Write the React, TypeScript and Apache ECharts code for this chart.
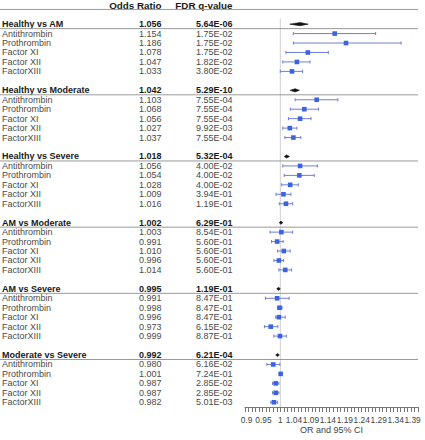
import React, { useEffect, useRef } from "react";
import * as echarts from "echarts";

// ---- data ----
const groupNames = ["Healthy vs AM", "Healthy vs Moderate", "Healthy vs Severe", "AM vs Moderate", "AM vs Severe", "Moderate vs Severe"];
const groupOR = [1.056, 1.042, 1.018, 1.002, 0.995, 0.992];
const groupQ = [5.64e-6, 5.29e-10, 5.32e-4, 6.29e-1, 1.19e-1, 6.21e-4];
const groupLo = [1.027, 1.028, 1.011, 0.999, 0.992, 0.99];
const groupHi = [1.079, 1.054, 1.026, 1.005, 0.998, 0.994];

const factorNames = ["Antithrombin", "Prothrombin", "Factor XI", "Factor XII", "FactorXIII"];
const factorOR = [
  [1.154, 1.186, 1.078, 1.047, 1.033],
  [1.103, 1.068, 1.056, 1.027, 1.037],
  [1.056, 1.054, 1.028, 1.009, 1.016],
  [1.003, 0.991, 1.01, 0.996, 1.014],
  [0.991, 0.998, 0.996, 0.973, 0.999],
  [0.98, 1.001, 0.987, 0.987, 0.982],
];
const factorQ = [
  [1.75e-2, 1.75e-2, 1.75e-2, 1.82e-2, 3.8e-2],
  [7.55e-4, 7.55e-4, 7.55e-4, 9.92e-3, 7.55e-4],
  [4.0e-2, 4.0e-2, 4.0e-2, 3.94e-1, 1.19e-1],
  [8.54e-1, 5.6e-1, 5.6e-1, 5.6e-1, 5.6e-1],
  [8.47e-1, 8.47e-1, 8.47e-1, 6.15e-2, 8.87e-1],
  [6.16e-2, 7.24e-1, 2.85e-2, 2.85e-2, 5.01e-3],
];
const factorLo = [
  [1.037, 1.037, 1.016, 1.007, 1.0],
  [1.042, 1.028, 1.023, 1.007, 1.013],
  [1.007, 1.011, 1.004, 0.988, 0.997],
  [0.971, 0.975, 0.992, 0.982, 0.996],
  [0.958, 0.992, 0.987, 0.955, 0.982],
  [0.962, 0.998, 0.978, 0.978, 0.973],
];
const factorHi = [
  [1.27, 1.342, 1.136, 1.084, 1.063],
  [1.163, 1.108, 1.087, 1.047, 1.058],
  [1.105, 1.096, 1.051, 1.03, 1.035],
  [1.035, 1.008, 1.028, 1.009, 1.032],
  [1.025, 1.005, 1.014, 0.993, 1.017],
  [0.999, 1.004, 0.996, 0.996, 0.992],
];

const columnHeaders = ["Odds Ratio", "FDR q-value"];
const tickLabels = [0.9, 0.95, 1, 1.04, 1.09, 1.14, 1.19, 1.24, 1.29, 1.34, 1.39];
const axisName = "OR and 95% CI";
const xMin = 0.9;
const xMax = 1.39;
// the reference packs its tick labels slightly tighter than its ticks
const labelAxisMin = 0.8956;
const labelAxisMax = 1.4059;

// ---- helpers ----
function fmtQ(v: number): string {
  const [m, e] = v.toExponential(2).split("e");
  const n = parseInt(e, 10);
  const sign = n < 0 ? "-" : "+";
  const abs = Math.abs(n);
  return m + "E" + sign + (abs < 10 ? "0" + abs : String(abs));
}

type Row = { row: number; kind: number; name: string; or?: number; q?: number; lo?: number; hi?: number };

function buildRows(): Row[] {
  const rows: Row[] = [{ row: 0, kind: 0, name: "" }];
  groupNames.forEach((g, gi) => {
    const r = 2 + gi * 7;
    rows.push({ row: r, kind: 1, name: g, or: groupOR[gi], q: groupQ[gi], lo: groupLo[gi], hi: groupHi[gi] });
    factorNames.forEach((f, fi) => {
      rows.push({
        row: r + 1 + fi,
        kind: 2,
        name: f,
        or: factorOR[gi][fi],
        q: factorQ[gi][fi],
        lo: factorLo[gi][fi],
        hi: factorHi[gi][fi],
      });
    });
  });
  return rows;
}

const FONT = "Liberation Sans, Arial, sans-serif";
const NAME_X = 2;
const OR_X = 161.5;
const Q_X = 232.5;

export default function App() {
  const ref = useRef<HTMLDivElement>(null);
  useEffect(() => {
    if (!ref.current) return;
    const chart = echarts.init(ref.current, undefined, { renderer: "svg" });
    const rows = buildRows();
    const data = rows.map((r, i) => [r.or ?? 1, r.row, r.lo ?? 1, r.hi ?? 1, r.kind, i]);

    const renderItem = (params: any, api: any) => {
      const idx = api.value(5);
      const r = rows[idx];
      const y = api.coord([1, r.row])[1];
      const xRight = api.coord([xMax, r.row])[0];
      const children: any[] = [];
      const txt = (text: string, x: number, align: string, bold: boolean, fill: string, size = 9) => ({
        type: "text",
        style: {
          text,
          x,
          y,
          align,
          verticalAlign: "middle",
          fontSize: size,
          fontFamily: FONT,
          fontWeight: bold ? "bold" : "normal",
          fill,
        },
      });
      if (r.kind === 0) {
        children.push(txt(columnHeaders[0], OR_X, "right", true, "#1a1a1a", 9.8));
        children.push(txt(columnHeaders[1], Q_X, "right", true, "#1a1a1a", 9.8));
        children.push({
          type: "line",
          shape: { x1: 0, y1: y + 4.2, x2: xRight, y2: y + 4.2 },
          style: { stroke: "#9a9a9a", lineWidth: 1 },
        });
        return { type: "group", children };
      }
      const bold = r.kind === 1;
      const col = bold ? "#1a1a1a" : "#4a4a4a";
      children.push(txt(r.name, NAME_X, "left", bold, col));
      children.push(txt((r.or as number).toFixed(3), OR_X, "right", bold, col));
      children.push(txt(fmtQ(r.q as number), Q_X, "right", bold, col));
      const xo = api.coord([r.or, r.row])[0];
      const xl = api.coord([r.lo, r.row])[0];
      const xh = api.coord([r.hi, r.row])[0];
      if (bold) {
        children.push({
          type: "line",
          shape: { x1: 0, y1: y + 4.5, x2: xRight, y2: y + 4.5 },
          style: { stroke: "#9a9a9a", lineWidth: 1 },
        });
        const l = Math.min(xl, xo - 1.8);
        const h = Math.max(xh, xo + 1.8);
        children.push({
          type: "polygon",
          shape: { points: [[l, y], [xo, y - 1.6], [h, y], [xo, y + 1.6]] },
          style: { fill: "#111", stroke: "#111", lineWidth: 0.6 },
        });
      } else {
        children.push({
          type: "line",
          shape: { x1: xl, y1: y, x2: xh, y2: y },
          style: { stroke: "#6e7fd6", lineWidth: 1 },
        });
        children.push({
          type: "line",
          shape: { x1: xl, y1: y - 1.6, x2: xl, y2: y + 1.6 },
          style: { stroke: "#6e7fd6", lineWidth: 1 },
        });
        children.push({
          type: "line",
          shape: { x1: xh, y1: y - 1.6, x2: xh, y2: y + 1.6 },
          style: { stroke: "#6e7fd6", lineWidth: 1 },
        });
        children.push({
          type: "rect",
          shape: { x: xo - 2.3, y: y - 2.3, width: 4.6, height: 4.6 },
          style: { fill: "#3b63e0" },
        });
      }
      return { type: "group", children };
    };

    chart.setOption({
      animation: false,
      grid: { left: 245, right: 7, top: 0.5, bottom: 33, outerBoundsMode: "none", containLabel: false },
      xAxis: [
        {
          type: "value",
          position: "bottom",
          min: xMin,
          max: xMax,
          interval: 0.01,
          name: axisName,
          nameLocation: "middle",
          nameGap: 18.5,
          nameTextStyle: { fontSize: 9, fontFamily: FONT, color: "#444" },
          axisLine: { show: true, onZero: false, lineStyle: { color: "#777", width: 1 } },
          axisTick: { show: true, length: 5, inside: false, lineStyle: { color: "#777", width: 1 } },
          axisLabel: { show: false },
          splitLine: { show: false },
        },
        {
          type: "value",
          position: "bottom",
          min: labelAxisMin,
          max: labelAxisMax,
          axisLine: { show: false, onZero: false },
          axisTick: { show: false },
          axisLabel: {
            customValues: tickLabels,
            fontSize: 8.4,
            fontFamily: FONT,
            color: "#444",
            margin: 8.5,
            hideOverlap: false,
            showMinLabel: true,
            showMaxLabel: true,
            formatter: (v: number) => String(parseFloat(v.toFixed(2))),
          },
          splitLine: { show: false },
        },
      ],
      yAxis: {
        type: "value",
        min: -0.5,
        max: 42.5,
        inverse: true,
        show: false,
        splitLine: { show: false },
      },
      series: [
        {
          type: "line",
          xAxisIndex: 0,
          data: [[1, 1.4], [1, 42.5]],
          symbol: "none",
          lineStyle: { color: "#cfcfcf", width: 1 },
          silent: true,
          z: 1,
        },
        {
          type: "custom",
          xAxisIndex: 0,
          renderItem,
          data,
          clip: false,
          silent: true,
          z: 2,
        },
      ],
    });
    return () => chart.dispose();
  }, []);
  return (
    <div
      ref={ref}
      style={{ position: "fixed", left: 0, top: 0, width: 425, height: 440, background: "#fff" }}
    />
  );
}
